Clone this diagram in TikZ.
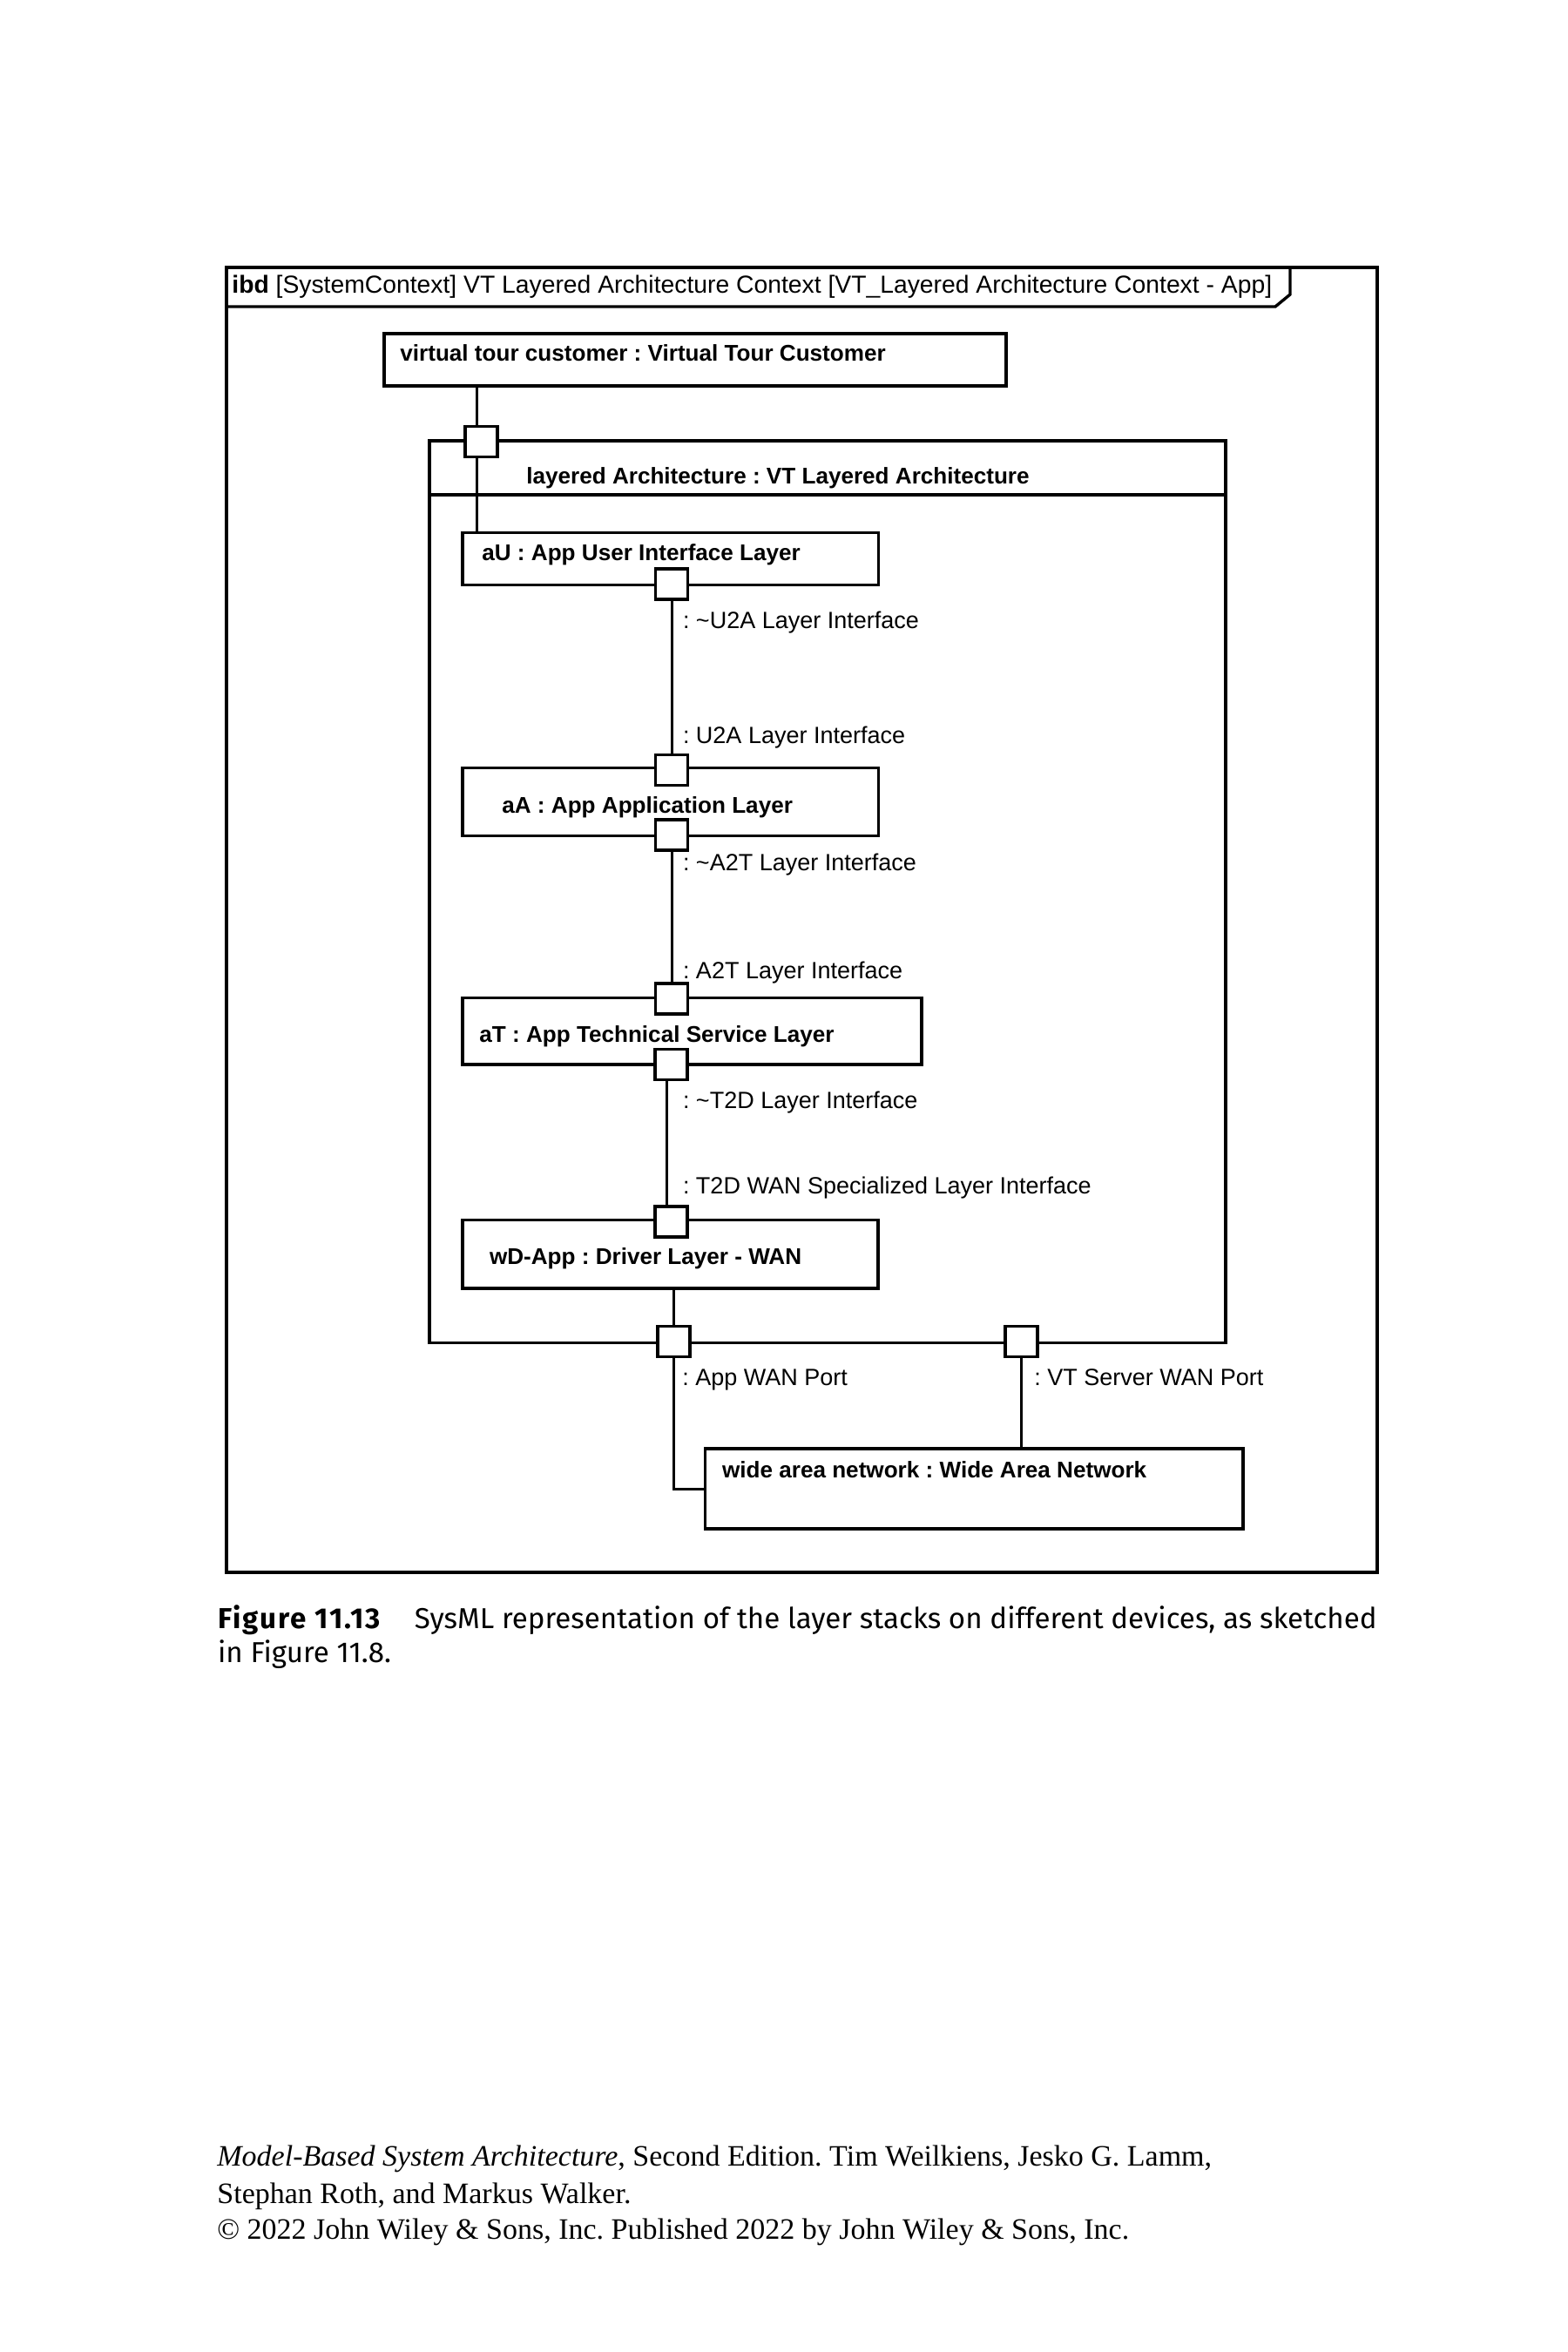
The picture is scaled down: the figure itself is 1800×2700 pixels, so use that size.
\documentclass[tikz,border=0pt]{standalone}
\usepackage{fontspec}
\setmainfont{Liberation Sans}
\newfontfamily\capfont{Fira Sans}
\newfontfamily\capboldfont[LetterSpace=6]{Fira Sans Bold}
\newfontfamily\footfont{Liberation Serif}
\usetikzlibrary{fit,calc}
\frenchspacing
\begin{document}
\begin{tikzpicture}[x=0.5pt,y=-0.5pt,
  box/.style={draw, line width=1.7pt, inner sep=0pt},
  port/.style={draw, fill=white, line width=1.7pt, minimum width=18.5pt, minimum height=17.5pt, inner sep=0pt},
  conn/.style={line width=1.5pt},
  bt/.style={anchor=base west, inner sep=0pt, font=\bfseries\fontsize{13.05pt}{15pt}\selectfont},
  lt/.style={anchor=base west, inner sep=0pt, font=\fontsize{13.5pt}{16pt}\selectfont},
  capt/.style={anchor=base west, inner sep=0pt, font=\capfont\fontsize{16.55pt}{19pt}\selectfont},
  foot/.style={anchor=base west, inner sep=0pt, font=\footfont\fontsize{17pt}{19pt}\selectfont},
]
\useasboundingbox[fill=white] (0,0) rectangle (1800,2700);
% frame
\draw[line width=1.7pt] (260,307) rectangle (1581,1805);
\draw[line width=1.7pt] (260,352) -- (1464,352) -- (1481,338) -- (1481,307);
\node[lt, font=\fontsize{14.15pt}{16pt}\selectfont] (title) at (266,336.7) {\textbf{ibd} [SystemContext] VT Layered Architecture Context [VT\_Layered Architecture Context - App]};
% blocks
\node[box, fit={(441,383) (1155,443)}] (vtc) {};
\node[bt] (vtct) at (459,414) {virtual tour customer : Virtual Tour Customer};
\node[box, fit={(493,506) (1407,1541.7)}] (la) {};
\draw[line width=1.7pt] (493,568) -- (1407,568);
\node[bt] (lat) at (604,555) {layered Architecture : VT Layered Architecture};
\node[box, fit={(531,611.7) (1008.5,671.7)}] (aU) {};
\node[bt] (aUt) at (553,643) {aU : App User Interface Layer};
\node[box, fit={(531,881.7) (1008.5,959.5)}] (aA) {};
\node[bt] (aAt) at (576,933) {aA : App Application Layer};
\node[box, fit={(531,1145.7) (1058,1222)}] (aT) {};
\node[bt] (aTt) at (550,1196.7) {aT : App Technical Service Layer};
\node[box, fit={(531,1400.7) (1008,1479)}] (wD) {};
\node[bt] (wDt) at (561.6,1451.7) {wD-App : Driver Layer - WAN};
\node[box, fit={(809.5,1663) (1427,1755)}] (wan) {};
\node[bt] (want) at (828.7,1696.7) {wide area network : Wide Area Network};
% connector x positions
\coordinate (l0) at (547.5,0);
\coordinate (l2) at (765,0);
% ports
\node[port] (p0) at (552.5,506.7) {};
\node[port] (pU) at (771,670.5) {};
\node[port] (pAt) at (771,884) {};
\node[port] (pAb) at (771,958.5) {};
\node[port] (pTt) at (771,1146.5) {};
\node[port] (pTb) at (770.5,1222) {};
\node[port] (pWt) at (770.5,1402.5) {};
\node[port] (pApp) at (773.6,1540) {};
\node[port] (pVT) at (1172.3,1540) {};
% connectors
\draw[conn] (vtc.south -| l0) -- (p0.north -| l0);
\draw[conn] (p0.south -| l0) -- (aU.north -| l0);
\draw[conn] (pU.south) -- (pAt.north);
\draw[conn] (pAb.south) -- (pTt.north);
\draw[conn] (pTb.south -| l2) -- (pWt.north -| l2);
\draw[conn] (wD.south -| pApp) -- (pApp.north);
\draw[conn] (pApp.south) |- (wan.west);
\draw[conn] (pVT.south) -- (wan.north -| pVT);
% labels
\node[lt] (lb1) at (783.6,721.7) {: \textasciitilde U2A Layer Interface};
\node[lt] (lb2) at (783.6,853) {: U2A Layer Interface};
\node[lt] (lb3) at (783.6,999) {: \textasciitilde A2T Layer Interface};
\node[lt] (lb4) at (783.6,1123) {: A2T Layer Interface};
\node[lt] (lb5) at (783.6,1272.7) {: \textasciitilde T2D Layer Interface};
\node[lt] (lb6) at (783.6,1370) {: T2D WAN Specialized Layer Interface};
\node[lt] (lb7) at (783,1590.7) {: App WAN Port};
\node[lt] (lb8) at (1187,1590.7) {: VT Server WAN Port};
% caption
\node[capt] (cap1) at (249.6,1869.3) {{\capboldfont Figure 11.13}\hspace{19.5pt}SysML representation of the layer stacks on different devices, as sketched};
\node[capt] (cap2) at (249.6,1908.3) {in Figure 11.8.};
% footer
\node[foot] (f1) at (249,2486.7) {\textit{Model-Based System Architecture}, Second Edition. Tim Weilkiens, Jesko G. Lamm,};
\node[foot] (f2) at (249,2529) {Stephan Roth, and Markus Walker.};
\node[foot] (f3) at (249,2570.7) {© 2022 John Wiley \& Sons, Inc. Published 2022 by John Wiley \& Sons, Inc.};
\end{tikzpicture}
\end{document}
